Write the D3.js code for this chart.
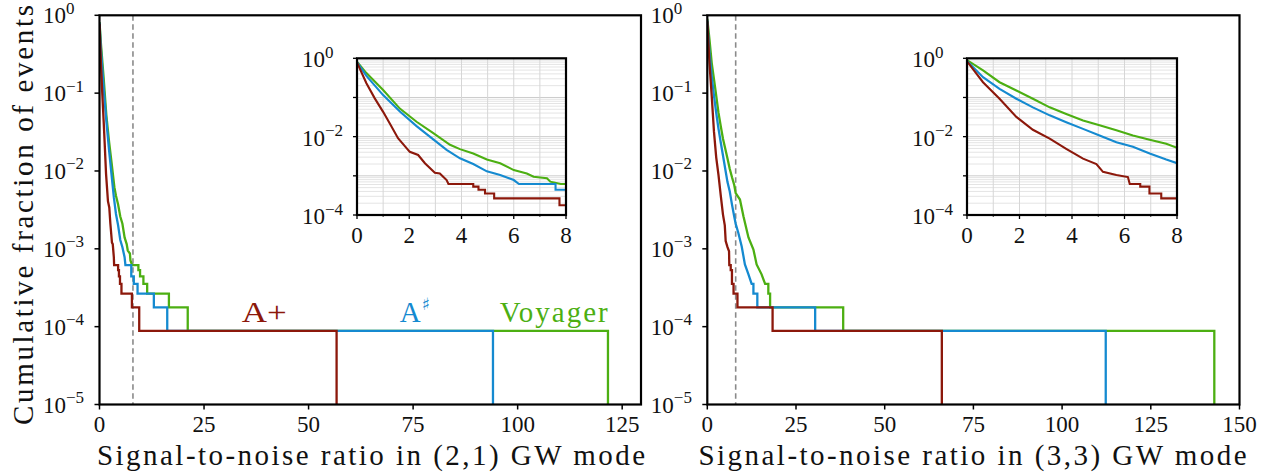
<!DOCTYPE html>
<html><head><meta charset="utf-8">
<script src="https://cdn.jsdelivr.net/npm/d3@7"></script>
<style>
body{margin:0;background:#fff;}
svg{display:block;font-family:"Liberation Serif","DejaVu Serif",serif;}
</style>
</head><body>
<svg id="chart" width="1278" height="475" fill="#111"></svg>
<script>
// ---------------- data ----------------
const seriesNames = ["A+", "A\u266F", "Voyager"];
const seriesColors = ["#8c180b", "#158ad0", "#4caf12"];
const xTicksLeft = [0, 25, 50, 75, 100, 125];
const xTicksRight = [0, 25, 50, 75, 100, 125, 150];
const yTickValues = [1, 1e-1, 1e-2, 1e-3, 1e-4, 1e-5];
const yTickExps = ["0", "\u22121", "\u22122", "\u22123", "\u22124", "\u22125"];
const insetXTicks = [0, 2, 4, 6, 8];
const insetYTickValues = [1, 1e-2, 1e-4];
const insetYTickExps = ["0", "\u22122", "\u22124"];
const snrThreshold = 8;
const xLabels = ["Signal-to-noise ratio in (2,1) GW mode", "Signal-to-noise ratio in (3,3) GW mode"];
const yLabel = "Cumulative fraction of events";

// [SNR, cumulative fraction of events]  -- (2,1) mode
const l21_Aplus = [[0,0.78],[0.36,0.23],[0.68,0.095],[1.0,0.043],[1.25,0.022],[1.57,0.0091],[2.02,0.0041],[2.34,0.0034],[2.6,0.0021],[2.98,0.0012],[3.17,0.00115],[3.43,0.00078],[3.5,6.19e-4],[4.45,6.19e-4],[4.45,5.31e-4],[4.65,5.31e-4],[4.65,4.42e-4],[4.9,4.42e-4],[4.9,3.54e-4],[5.25,3.54e-4],[5.25,2.65e-4],[7.75,2.65e-4],[7.75,1.77e-4],[9.5,1.77e-4],[9.5,8.85e-5],[56.7,8.85e-5],[56.7,1e-6]];
const l21_Asharp = [[0,0.8],[0.36,0.355],[1.0,0.115],[1.64,0.044],[2.28,0.0186],[2.92,0.0085],[3.43,0.0046],[3.94,0.0028],[4.45,0.002],[4.97,0.0013],[5.48,0.00105],[6.0,7.8e-4],[6.2,6.19e-4],[7.6,6.19e-4],[7.6,4.42e-4],[8.2,4.42e-4],[8.2,3.54e-4],[9.1,3.54e-4],[9.1,2.65e-4],[13.0,2.65e-4],[13.0,1.77e-4],[16.2,1.77e-4],[16.2,8.85e-5],[94.1,8.85e-5],[94.1,1e-6]];
const l21_Voyager = [[0,0.82],[0.36,0.42],[1.0,0.155],[1.64,0.052],[2.28,0.024],[2.92,0.0123],[3.56,0.0062],[3.94,0.0048],[4.45,0.0037],[4.97,0.0026],[5.48,0.0021],[6.0,0.0014],[6.5,0.00115],[6.76,9.5e-4],[7.27,8.7e-4],[7.4,7.1e-4],[7.8,6.19e-4],[9.3,6.19e-4],[9.3,5.31e-4],[9.7,5.31e-4],[9.7,4.42e-4],[10.5,4.42e-4],[10.5,3.54e-4],[11.4,3.54e-4],[11.4,2.65e-4],[16.6,2.65e-4],[16.6,1.77e-4],[21.1,1.77e-4],[21.1,8.85e-5],[121.6,8.85e-5],[121.6,1e-6]];

// [SNR, cumulative fraction of events]  -- (3,3) mode
const l33_Aplus = [[0,0.84],[0.61,0.245],[1.24,0.093],[1.88,0.032],[2.51,0.015],[3.15,0.0089],[3.78,0.0049],[4.42,0.00275],[4.93,0.002],[5.18,0.00126],[5.69,0.00105],[6.13,9.3e-4],[6.2,6.19e-4],[6.6,6.19e-4],[6.6,5.31e-4],[6.95,5.31e-4],[6.95,3.54e-4],[7.4,3.54e-4],[7.4,2.65e-4],[8.5,2.65e-4],[8.5,1.77e-4],[18.4,1.77e-4],[18.4,8.85e-5],[66.1,8.85e-5],[66.1,1e-6]];
const l33_Asharp = [[0,0.86],[0.61,0.33],[1.24,0.166],[1.88,0.093],[2.51,0.056],[3.15,0.035],[3.78,0.0234],[4.42,0.0158],[5.05,0.0107],[5.69,0.0072],[6.32,0.0055],[6.96,0.0037],[7.59,0.0026],[8.0,0.0021],[8.75,0.0016],[9.7,0.00107],[10.6,6.3e-4],[11.6,4.7e-4],[12.5,3.54e-4],[13.0,3.54e-4],[13.0,2.65e-4],[14.1,2.65e-4],[14.1,1.77e-4],[30.4,1.77e-4],[30.4,8.85e-5],[112.3,8.85e-5],[112.3,1e-6]];
const l33_Voyager = [[0,0.9],[0.61,0.49],[1.24,0.245],[1.88,0.151],[2.51,0.093],[3.15,0.056],[3.78,0.038],[4.42,0.026],[5.05,0.0195],[5.69,0.0145],[6.32,0.0107],[6.96,0.0083],[7.59,0.0066],[8.0,0.0052],[9.2,0.0043],[10.2,0.0026],[11.6,0.0014],[13.0,9.8e-4],[13.9,6.3e-4],[15.3,4.7e-4],[16.3,3.54e-4],[17.2,3.54e-4],[17.2,2.65e-4],[17.7,2.65e-4],[17.7,1.77e-4],[38.3,1.77e-4],[38.3,8.85e-5],[142.9,8.85e-5],[142.9,1e-6]];

// ---------------- layout ----------------
const panels = [
  {series:[l21_Aplus,l21_Asharp,l21_Voyager], xMax:129.5, xTicks:xTicksLeft, xLabel:xLabels[0],
   box:{l:99.5,r:641,t:15.3,b:404.5}, inset:{l:357,r:566,t:58.3,b:215}, legend:true, yLabel:true, labelCx:371},
  {series:[l33_Aplus,l33_Asharp,l33_Voyager], xMax:150, xTicks:xTicksRight, xLabel:xLabels[1],
   box:{l:707.3,r:1239.5,t:15.3,b:404.5}, inset:{l:967,r:1177,t:58.3,b:215}, legend:false, yLabel:false, labelCx:972.5}
];
const legendLayout = [{x:34.0, w:45}, {x:71.8, w:30}, {x:95.7, w:108}];

const svg = d3.select("#chart");
const defs = svg.append("defs");
const FS_TICK = 23, FS_SUP = 17, FS_LABEL = 29;
const drawOrder = [2, 1, 0]; // red on top

function tickLabel10(g, x, y, exp) {
  const t = g.append("text").attr("x", x).attr("y", y).attr("font-size", FS_TICK);
  t.append("tspan").text("10");
  t.append("tspan").attr("font-size", FS_SUP).attr("dy", -9.5).text(exp);
}

panels.forEach((p, pi) => {
  const B = p.box;
  const x = d3.scaleLinear().domain([0, p.xMax]).range([B.l, B.r]);
  const y = d3.scaleLog().domain([1e-5, 1]).range([B.b, B.t]);
  const g = svg.append("g");
  const clipId = "clipMain" + pi;
  defs.append("clipPath").attr("id", clipId).append("rect")
    .attr("x", B.l).attr("y", B.t).attr("width", B.r - B.l).attr("height", B.b - B.t);

  // threshold line
  g.append("line").attr("x1", x(snrThreshold)).attr("x2", x(snrThreshold))
    .attr("y1", B.t).attr("y2", B.b)
    .attr("stroke", "#8a8a8a").attr("stroke-width", 1.6).attr("stroke-dasharray", "5.5,3.5");

  const line = d3.line().x(d => x(d[0])).y(d => y(Math.max(d[1], 1e-7)));
  const cg = g.append("g").attr("clip-path", `url(#${clipId})`);
  drawOrder.forEach(si => {
    cg.append("path").attr("d", line(p.series[si])).attr("fill", "none")
      .attr("stroke", seriesColors[si]).attr("stroke-width", 2.3)
      .attr("stroke-linejoin", "miter");
  });

  // spines
  g.append("rect").attr("x", B.l).attr("y", B.t).attr("width", B.r - B.l).attr("height", B.b - B.t)
    .attr("fill", "none").attr("stroke", "#000").attr("stroke-width", 2.2);

  // x ticks
  p.xTicks.forEach(v => {
    g.append("line").attr("x1", x(v)).attr("x2", x(v)).attr("y1", B.b).attr("y2", B.b + 5)
      .attr("stroke", "#000").attr("stroke-width", 1.5);
    g.append("text").attr("x", x(v)).attr("y", B.b + 27).attr("text-anchor", "middle")
      .attr("font-size", FS_TICK).text(v);
  });
  // y ticks
  yTickValues.forEach((v, i) => {
    g.append("line").attr("x1", B.l - 5).attr("x2", B.l).attr("y1", y(v)).attr("y2", y(v))
      .attr("stroke", "#000").attr("stroke-width", 1.5);
    tickLabel10(g, B.l - 56.5, y(v) + 8, yTickExps[i]);
  });

  // axis label
  g.append("text").attr("x", p.labelCx).attr("y", 465).attr("text-anchor", "middle")
    .attr("font-size", FS_LABEL).attr("textLength", 548).attr("lengthAdjust", "spacing")
    .text(p.xLabel);
  if (p.yLabel) {
    g.append("text").attr("transform", "translate(33,215) rotate(-90)")
      .attr("text-anchor", "middle").attr("font-size", FS_LABEL)
      .attr("textLength", 420).attr("lengthAdjust", "spacing").text(yLabel);
  }

  // legend labels
  if (p.legend) {
    const yBase = y(8.85e-5) - 9;
    seriesNames.forEach((name, si) => {
      const L = legendLayout[si];
      const t = g.append("text").attr("x", x(L.x)).attr("y", yBase)
        .attr("font-size", FS_LABEL).style("fill", seriesColors[si]);
      if (si === 0) {
        t.attr("textLength", L.w).attr("lengthAdjust", "spacingAndGlyphs").text(name);
      } else if (si === 1) {
        t.append("tspan").text("A");
        t.append("tspan").attr("font-size", 17).attr("dy", -12).attr("dx", 1)
          .style("font-family", "DejaVu Sans").text("\u266F");
      } else {
        t.attr("textLength", L.w).attr("lengthAdjust", "spacing").text(name);
      }
    });
  }

  // ---------- inset ----------
  const I = p.inset;
  const xi = d3.scaleLinear().domain([0, 8]).range([I.l, I.r]);
  const yi = d3.scaleLog().domain([1e-4, 1]).range([I.b, I.t]);
  const ig = svg.append("g");
  const clipI = "clipInset" + pi;
  defs.append("clipPath").attr("id", clipI).append("rect")
    .attr("x", I.l).attr("y", I.t).attr("width", I.r - I.l).attr("height", I.b - I.t);
  ig.append("rect").attr("x", I.l).attr("y", I.t).attr("width", I.r - I.l).attr("height", I.b - I.t)
    .attr("fill", "#fff");
  // grid
  const gridG = ig.append("g").attr("clip-path", `url(#${clipI})`);
  for (let d = -4; d <= 0; d++) {
    for (let m = 1; m <= 9; m++) {
      const v = m * Math.pow(10, d);
      if (v > 1 || v < 1e-4) continue;
      gridG.append("line").attr("x1", I.l).attr("x2", I.r).attr("y1", yi(v)).attr("y2", yi(v))
        .attr("stroke", m === 1 ? "#cccccc" : "#e4e4e4").attr("stroke-width", 1);
    }
  }
  d3.range(0, 9).forEach(v => {
    gridG.append("line").attr("x1", xi(v)).attr("x2", xi(v)).attr("y1", I.t).attr("y2", I.b)
      .attr("stroke", "#d6d6d6").attr("stroke-width", 1);
  });
  const iline = d3.line().x(d => xi(d[0])).y(d => yi(Math.max(d[1], 1e-7)));
  const icg = ig.append("g").attr("clip-path", `url(#${clipI})`);
  drawOrder.forEach(si => {
    const s = p.series[si];
    icg.append("path").attr("d", iline(s.filter((d, k) => k === 0 || s[k - 1][0] <= 8.5)))
      .attr("fill", "none").attr("stroke", seriesColors[si]).attr("stroke-width", 2.1);
  });
  ig.append("rect").attr("x", I.l).attr("y", I.t).attr("width", I.r - I.l).attr("height", I.b - I.t)
    .attr("fill", "none").attr("stroke", "#000").attr("stroke-width", 2.2);
  // inset ticks
  d3.range(0, 9).forEach(v => {
    const major = v % 2 === 0;
    ig.append("line").attr("x1", xi(v)).attr("x2", xi(v)).attr("y1", I.b).attr("y2", I.b + (major ? 4 : 2))
      .attr("stroke", "#000").attr("stroke-width", major ? 1.3 : 0.8);
  });
  insetXTicks.forEach(v => {
    ig.append("text").attr("x", xi(v)).attr("y", I.b + 28).attr("text-anchor", "middle")
      .attr("font-size", FS_TICK).text(v);
  });
  for (let d = -4; d <= 0; d++) {
    ig.append("line").attr("x1", I.l - 4).attr("x2", I.l).attr("y1", yi(Math.pow(10, d))).attr("y2", yi(Math.pow(10, d)))
      .attr("stroke", "#000").attr("stroke-width", 1.3);
  }
  insetYTickValues.forEach((v, i) => tickLabel10(ig, I.l - 55, yi(v) + 9, insetYTickExps[i]));
});
</script>
</body></html>
